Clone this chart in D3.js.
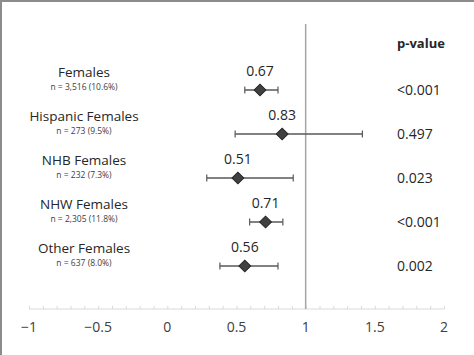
<!DOCTYPE html>
<html><head><meta charset="utf-8">
<script src="https://cdn.jsdelivr.net/npm/d3@7"></script>
<style>body{margin:0;background:#fff}svg{display:block}</style>
</head><body>
<script>
const groups = ["Females","Hispanic Females","NHB Females","NHW Females","Other Females"];
const sampleLabels = ["n = 3,516 (10.6%)","n = 273 (9.5%)","n = 232 (7.3%)","n = 2,305 (11.8%)","n = 637 (8.0%)"];
const estimates = [0.67,0.83,0.51,0.71,0.56];
const ciLow = [0.56,0.49,0.285,0.595,0.38];
const ciHigh = [0.80,1.41,0.91,0.835,0.80];
const pValues = ["<0.001","0.497","0.023","<0.001","0.002"];
const xTicks = [-1,-0.5,0,0.5,1,1.5,2];
const xTickLabels = ["\u22121","\u22120.5","0","0.5","1","1.5","2"];

const W=474,H=355;
const font="'Open Sans', 'Noto Sans', sans-serif";
const svg=d3.select("body").append("svg").attr("width",W).attr("height",H).style("font-family",font);
svg.append("rect").attr("x",0).attr("y",0).attr("width",W).attr("height",H).attr("fill","#fff");
// frame
svg.append("rect").attr("x",0).attr("y",0).attr("width",2).attr("height",H).attr("fill","#8c8c8c");
svg.append("rect").attr("x",0).attr("y",0).attr("width",W).attr("height",2).attr("fill","#8c8c8c");

const x=d3.scaleLinear().domain([-1,2]).range([29,444]);
const y=d3.scaleBand().domain(groups).range([68,288]);
const yc=g=>y(g)+y.bandwidth()/2;
const axisY=309;

// axis
const ax=d3.axisTop(x).tickValues(d3.range(-10,21).map(d=>d/10)).tickSize(3).tickFormat("");
const axg=svg.append("g").attr("transform",`translate(0,${axisY})`).call(ax);
axg.select(".domain").attr("stroke","#d9d9d9").attr("d",`M${x(-1)},0H${x(2)}`);
axg.selectAll(".tick line").attr("stroke","#d9d9d9");
svg.append("g").selectAll("text").data(xTicks).join("text")
  .attr("x",d=>x(d)).attr("y",axisY+23).attr("text-anchor","middle")
  .attr("font-size",14).attr("fill","#404040").text((d,i)=>xTickLabels[i]);

// reference line
svg.append("line").attr("x1",x(1)).attr("x2",x(1)).attr("y1",24).attr("y2",axisY)
  .attr("stroke","#a6a6a6").attr("stroke-width",1.5);

// header
svg.append("text").attr("x",421).attr("y",48).attr("text-anchor","middle")
  .attr("font-size",13).attr("font-weight","bold").attr("fill","#262626").text("p-value");

const rows=svg.append("g").selectAll("g").data(groups).join("g");
// labels
rows.append("text").attr("x",84).attr("y",g=>yc(g)-13).attr("text-anchor","middle")
  .attr("font-size",13.5).attr("fill","#262626").text(g=>g);
rows.append("text").attr("x",84).attr("y",g=>yc(g)-0.5).attr("text-anchor","middle")
  .attr("font-size",8.5).attr("fill","#404040").text((g,i)=>sampleLabels[i]);
// CI
rows.append("line").attr("x1",(g,i)=>x(ciLow[i])).attr("x2",(g,i)=>x(ciHigh[i]))
  .attr("y1",yc).attr("y2",yc).attr("stroke","#595959").attr("stroke-width",1.5);
rows.append("line").attr("x1",(g,i)=>x(ciLow[i])).attr("x2",(g,i)=>x(ciLow[i]))
  .attr("y1",g=>yc(g)-3.5).attr("y2",g=>yc(g)+3.5).attr("stroke","#595959").attr("stroke-width",1.2);
rows.append("line").attr("x1",(g,i)=>x(ciHigh[i])).attr("x2",(g,i)=>x(ciHigh[i]))
  .attr("y1",g=>yc(g)-3.5).attr("y2",g=>yc(g)+3.5).attr("stroke","#595959").attr("stroke-width",1.2);
// diamond
rows.append("path").attr("d",d3.symbol(d3.symbolSquare,70))
  .attr("transform",(g,i)=>`translate(${x(estimates[i])},${yc(g)}) rotate(45)`)
  .attr("fill","#404040").attr("stroke","#262626").attr("stroke-width",1);
// estimate labels
rows.append("text").attr("x",(g,i)=>x(estimates[i])).attr("y",g=>yc(g)-14).attr("text-anchor","middle")
  .attr("font-size",14).attr("fill","#262626").text((g,i)=>estimates[i].toFixed(2));
// p-values
rows.append("text").attr("x",397).attr("y",g=>yc(g)+5).attr("text-anchor","start")
  .attr("font-size",14).attr("fill","#262626").text((g,i)=>pValues[i]);
</script>
</body></html>
